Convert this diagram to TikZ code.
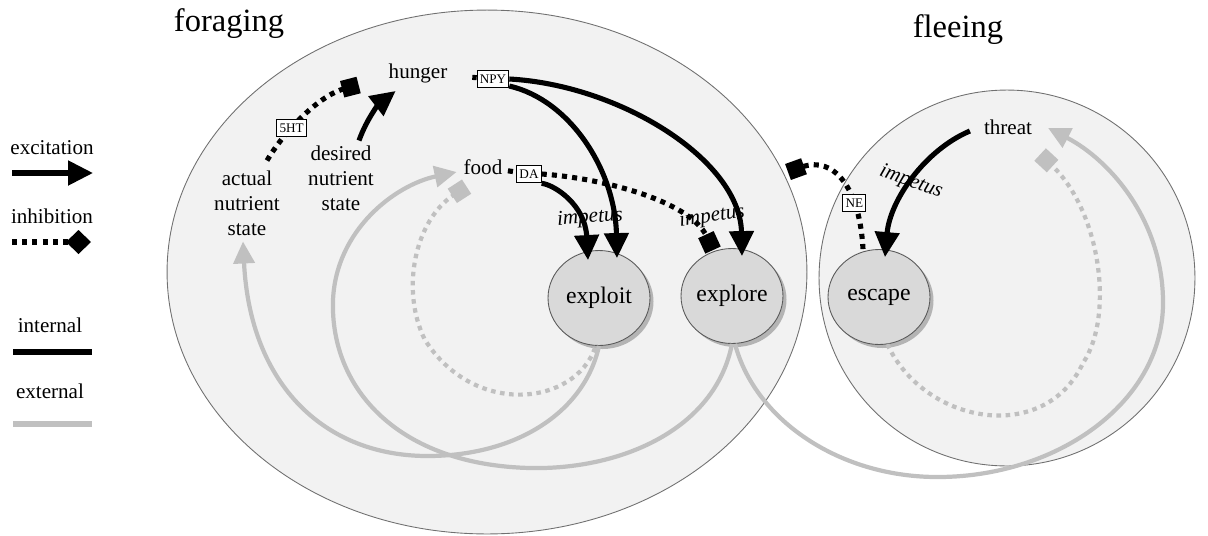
\documentclass[tikz,border=0pt]{standalone}
\usepackage{fontspec}
\setmainfont{Liberation Serif}
\usetikzlibrary{positioning}
\usetikzlibrary{arrows.meta}
\usetikzlibrary{calc}
\usetikzlibrary{shadows}
\usetikzlibrary{shapes.geometric}

\definecolor{zonefill}{HTML}{F2F2F2}
\definecolor{zoneline}{HTML}{707070}
\definecolor{actfill}{HTML}{D9D9D9}
\definecolor{extgray}{HTML}{C0C0C0}

\begin{document}
\begin{tikzpicture}[x=0.02cm, y=-0.02cm,
    zone/.style={ellipse, draw=zoneline, fill=zonefill, line width=0.5pt, inner sep=0pt},
    action/.style={ellipse, draw=black!65, fill=actfill, line width=0.5pt, inner sep=0pt,
        minimum width=2.04cm, minimum height=1.9cm,
        drop shadow={shadow xshift=2pt, shadow yshift=-2pt, fill=black!45, opacity=0.6},
        font=\fontsize{13.5}{16}\selectfont},
    statetext/.style={font=\fontsize{12}{14.2}\selectfont, align=center, inner sep=1pt},
    heading/.style={font=\fontsize{18.5}{22}\selectfont},
    tag/.style={draw, solid, fill=white, line width=0.6pt, inner sep=1.5pt, minimum height=10pt,
        font=\fontsize{7.5}{8}\selectfont},
    impetus/.style={font=\fontsize{12}{14}\selectfont\itshape, inner sep=0pt},
    internal/.style={line width=2.9pt},
    external/.style={line width=2.4pt, draw=extgray},
    dotline/.style={line width=2.9pt, dash pattern=on 2.9pt off 2.9pt},
    excite/.style={internal, -{Triangle[length=0.5cm, width=0.48cm]}},
    inhibit/.style={dotline, -{Square[length=0.34cm, width=0.34cm]}},
    extexcite/.style={external, -{Triangle[length=0.44cm, width=0.42cm]}},
    extinhibit/.style={external, dash pattern=on 2.6pt off 2.6pt, -{Square[length=0.34cm, width=0.34cm]}}
]
\useasboundingbox (0,0) rectangle (1208,535);

% zones
\node[zone, minimum width=12.8cm, minimum height=10.48cm] (forage) at (487,272) {};
\node[zone, minimum width=7.52cm, minimum height=7.52cm] (flee) at (1007,278) {};
\node[heading] (foraging) at (229,24) {foraging};
\node[heading] (fleeing) at (958,30) {fleeing};

% legend
\node[statetext] (excitation) at (52,148) {excitation};
\node[statetext] (inhibition) at (52,216) {inhibition};
\node[statetext] (internal) at (50,325) {internal};
\node[statetext] (external) at (50,391) {external};
\coordinate (exA) at (12,173);
\coordinate (exB) at (93,173);
\coordinate (inA) at (12,242);
\coordinate (inB) at (91,242);
\coordinate (intA) at (13,352);
\coordinate (intB) at (92,352);
\coordinate (extA) at (13,424);
\coordinate (extB) at (92,424);
\draw[excite] (exA) -- (exB);
\draw[dotline, -{Diamond[length=0.5cm, width=0.48cm]}] (inA) -- (inB);
\draw[internal] (intA) -- (intB);
\draw[external, line width=2.9pt] (extA) -- (extB);

% actions
\node[action] (exploit) at (599,298) {exploit};
\node[action] (explore) at (732,296) {explore};
\node[action] (escape) at (879,297) {escape};

% states
\node[statetext] (hunger) at (418,73) {hunger};
\node[statetext] (food) at (483,167) {food};
\node[statetext] (threat) at (1008,127) {threat};
\node[statetext] (actual) at (247,203) {actual\\nutrient\\state};
\node[statetext] (desired) at (341,178) {desired\\nutrient\\state};

% external loops
\draw[extexcite] (exploit.south) .. controls (585,410) and (520,455) .. (430,456)
    .. controls (325,457) and (250,385) .. ($(actual.south)+(-4,4)$);
\draw[extexcite] (explore.south) .. controls (715,430) and (620,470) .. (530,468)
    .. controls (400,465) and (330,390) .. (333,300)
    .. controls (336,230) and (395,185) .. ($(food.west)+(-5,5)$);
\draw[extinhibit] ($(exploit.south)+(-4,2)$) .. controls (575,405) and (475,418) .. (425,340)
    .. controls (400,290) and (415,220) .. ($(food.south west)+(5,10)$);
\draw[extexcite] ($(explore.south)+(3,0)$) .. controls (755,420) and (840,478) .. (940,477)
    .. controls (1060,476) and (1165,400) .. (1163,300)
    .. controls (1162,220) and (1110,160) .. ($(threat.east)+(14,1)$);
\draw[extinhibit] (escape.-80) .. controls (925,425) and (1045,445) .. (1083,363)
    .. controls (1115,315) and (1100,210) .. ($(threat.south east)+(6,18)$);

% internal drive
\draw[inhibit] ($(actual.north)+(20,-8)$) .. controls (285,130) and (320,95) .. ($(hunger.west)+(-28,12)$)
    node[tag, pos=0.35] {5HT};
\draw[excite] ($(desired.north)+(18,-3)$) .. controls (367,118) and (380,103) .. ($(hunger.west)+(9,18)$);

\node[tag] (npy) at (493,79) {NPY};
\draw[internal, shorten <=0.46cm] (hunger) -- (npy);
\draw[excite] (npy.east) .. controls (620,85) and (740,160) .. ($(explore.north)+(10,8)$);
\draw[excite] ([yshift=-4]npy.east) .. controls (570,100) and (615,170) .. ($(exploit.north)+(18,8)$);

\node[tag] (da) at (529,174) {DA};
\draw[dotline, shorten <=2pt] (food) -- (da);
\draw[excite] (da.south east) .. controls (555,185) and (585,205) .. ($(exploit.north)+(-11,10)$);
\draw[inhibit] (da.east) .. controls (600,178) and (690,200) .. ($(explore.north)+(-19,2)$);

\coordinate (fleeStop) at (788,172);
\draw[inhibit] ($(escape.north)+(-16,0)$) .. controls (860,190) and (835,155) .. (fleeStop)
    node[tag, pos=0.3] {NE};
\draw[excite] ($(threat.west)+(-12,4)$) .. controls (925,150) and (890,200) .. ($(escape.north)+(6,8)$);

% impetus labels
\node[impetus, rotate=4] (impA) at (590,218) {impetus};
\node[impetus, rotate=8] (impB) at (712,217) {impetus};
\node[impetus, rotate=-20] (impC) at (911,182) {impetus};
\end{tikzpicture}
\end{document}
